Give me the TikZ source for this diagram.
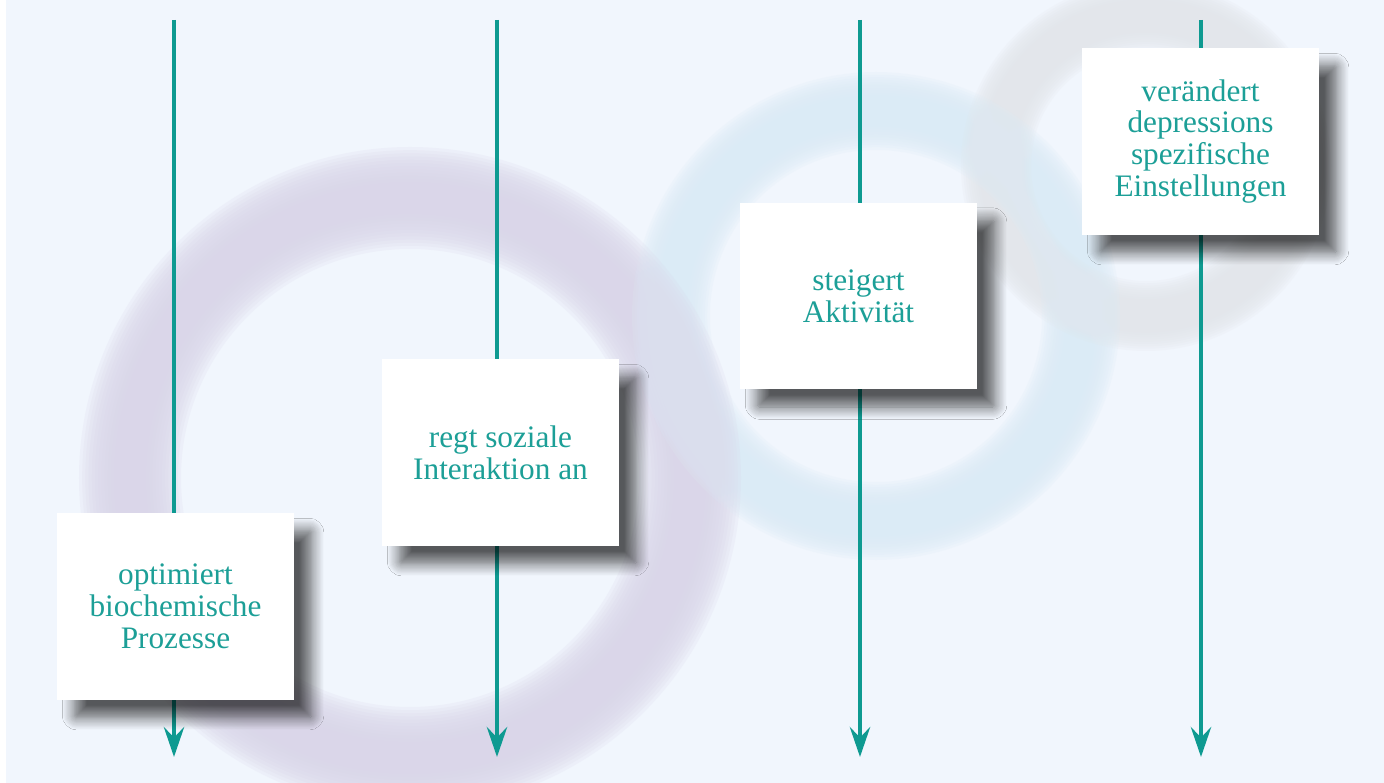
\documentclass[tikz,border=0pt]{standalone}
\usepackage{fontspec}
\setmainfont{Liberation Serif}
\usepackage{tikz}
\usetikzlibrary{arrows.meta,shadows.blur}
\definecolor{tealtxt}{HTML}{1C9F97}
\definecolor{tealarr}{HTML}{0E9A91}
\definecolor{bgblue}{HTML}{F1F6FD}
\definecolor{ringpurple}{HTML}{DAD6E9}
\definecolor{ringblue}{HTML}{DBEBF6}
\definecolor{ringgrey}{HTML}{E3E6EB}

\begin{document}
\begin{tikzpicture}[x=0.02cm, y=-0.02cm]
				\tikzset{box/.style = {fill = white, minimum width = 4.74cm, minimum height = 3.74cm,
						inner sep = 0pt, align = center, text = tealtxt,
						font = \fontsize{17.8}{18.2}\selectfont,
						blur shadow = {shadow xshift = 10pt, shadow yshift = -10pt,
							shadow blur radius = 7pt, shadow blur steps = 12,
							shadow opacity = 64, shadow blur extra rounding = 1pt}},
					flow/.style = {draw = tealarr, line width = 2.8pt,
						-{Stealth[length = 17pt, width = 11.5pt, inset = 6pt]}}}
				
				\useasboundingbox (0,0) rectangle (1384,783);
				\fill[white] (0,0) rectangle (1384,783);
				\fill[bgblue] (6,0) rectangle (1384,783);
				
				% blurred rings in the background
				\begin{scope}
					\clip (6,0) rectangle (1384,783);
					\foreach \k in {0,...,11} {
						\draw[ringgrey, opacity = 0.2, line width = 0.02cm*(20+50*\k/11)] (1146,166) circle (150);
						\draw[ringblue, opacity = 0.2, line width = 0.02cm*(22+56*\k/11)] (876,316) circle (205);
						\draw[ringpurple, opacity = 0.2, line width = 0.02cm*(32+70*\k/11)] (410,478) circle (280);
					}
				\end{scope}
				
				\coordinate (top_A) at (174,20);
				\coordinate (bot_A) at (174,757);
				\coordinate (top_B) at (497,20);
				\coordinate (bot_B) at (497,757);
				\coordinate (top_C) at (860,20);
				\coordinate (bot_C) at (860,757);
				\coordinate (top_D) at (1201,20);
				\coordinate (bot_D) at (1201,757);
				
				\draw[flow] (top_A) -- (bot_A);
				\draw[flow] (top_B) -- (bot_B);
				\draw[flow] (top_C) -- (bot_C);
				\draw[flow] (top_D) -- (bot_D);
				
				\node[box] (A) at (175.5,606.5) {optimiert\\biochemische\\Prozesse};
				\node[box] (B) at (500.5,452.5) {regt soziale\\Interaktion an};
				\node[box] (C) at (858.5,296) {steigert\\Aktivität};
				\node[box] (D) at (1200.5,141.5) {verändert\\depressions\\spezifische\\Einstellungen};
				
			\end{tikzpicture}
\end{document}
